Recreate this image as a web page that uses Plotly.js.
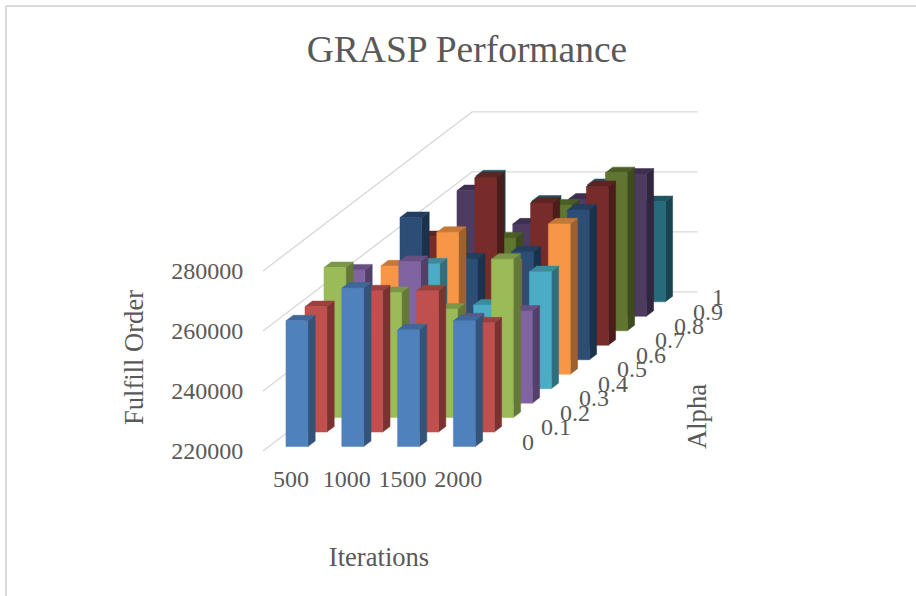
<!DOCTYPE html>
<html>
<head>
<meta charset="utf-8">
<script src="https://cdn.plot.ly/plotly-3.0.1.min.js"></script>
<style>html,body{margin:0;padding:0;background:#fff;overflow:hidden}</style>
</head>
<body>
<div id="chart" style="width:916px;height:596px"></div>
<script>
const iterations = ['500', '1000', '1500', '2000'];
const alphas = ['0', '0.1', '0.2', '0.3', '0.4', '0.5', '0.6', '0.7', '0.8', '0.9', '1'];
const valueTicks = [220000, 240000, 260000, 280000];

const alpha00 = [261900, 272800, 258900, 261900];
const alpha01 = [261800, 267100, 267100, 256400];
const alpha02 = [270000, 261700, 256200, 272800];
const alpha03 = [264400, 267200, 248100, 250700];
const alpha04 = [251200, 261600, 247900, 259000];
const alpha05 = [256100, 267300, 256400, 270100];
const alpha06 = [267400, 253600, 256000, 269900];
const alpha07 = [256200, 275800, 267400, 272900];
const alpha08 = [250900, 250900, 261900, 272700];
const alpha09 = [261900, 250800, 259100, 267400];
const alpha10 = [262000, 253600, 259100, 253400];
const series = [alpha00, alpha01, alpha02, alpha03, alpha04, alpha05, alpha06, alpha07, alpha08, alpha09, alpha10];

const colors = ['#4F81BD', '#C0504D', '#9BBB59', '#8064A2', '#4BACC6', '#F79646',
                '#2C4D75', '#772C2A', '#5F7530', '#4D3B62', '#276A7C'];

// Oblique projection, in axis units
const W = 916, H = 596;
const originX = 263, originY = 451;        // where the floor's front-left corner sits
const pxPerCat = 55.8, pxPerValue = 3 / 1000;
const depthX = 19 / pxPerCat;              // one alpha step, shift along x axis
const depthY = 14.47 / pxPerValue;         // one alpha step, shift along value axis
const base = valueTicks[0];
const barInset = 0.307, barWidth = 0.393, depthGap = 0.308, barDepth = 0.384;

function shade(hex, f) {
  const n = parseInt(hex.slice(1), 16);
  return 'rgb(' + [(n >> 16) & 255, (n >> 8) & 255, n & 255].map(c => Math.round(c * f)).join(',') + ')';
}
function P(col, depth, value) {
  return [col + depth * depthX, value + depth * depthY];
}
function poly(color, pts) {
  const x = [], y = [];
  pts.forEach(list => {
    list.forEach(p => { x.push(p[0]); y.push(p[1]); });
    x.push(list[0][0], null); y.push(list[0][1], null);
  });
  return {type: 'scatter', mode: 'lines', xaxis: 'x2', yaxis: 'y2', x, y, fill: 'toself', fillcolor: color,
          line: {color: color, width: 0.5}, hoverinfo: 'skip', showlegend: false};
}

// Empty trace that keeps the labelled axes alive
const traces = [{type: 'scatter', mode: 'markers', x: [], y: [], xaxis: 'x', yaxis: 'y', hoverinfo: 'skip', showlegend: false}];

const gridColor = '#D9D9D9';
valueTicks.forEach(v => {
  const a = P(0, 0, v), b = P(0, alphas.length, v), c = P(iterations.length + 0.04, alphas.length, v);
  traces.push({type: 'scatter', mode: 'lines', xaxis: 'x2', yaxis: 'y2', x: [a[0], b[0], c[0]], y: [a[1], b[1], c[1]],
               line: {color: gridColor, width: 1.4}, hoverinfo: 'skip', showlegend: false});
});

for (let s = series.length - 1; s >= 0; s--) {
  const d0 = s + depthGap, d1 = d0 + barDepth;
  const side = [], top = [], front = [];
  series[s].forEach((v, c) => {
    const x0 = c + barInset, x1 = x0 + barWidth;
    side.push([P(x1, d0, base), P(x1, d1, base), P(x1, d1, v), P(x1, d0, v)]);
    top.push([P(x0, d0, v), P(x1, d0, v), P(x1, d1, v), P(x0, d1, v)]);
    front.push([P(x0, d0, base), P(x1, d0, base), P(x1, d0, v), P(x0, d0, v)]);
  });
  traces.push(poly(shade(colors[s], 0.64), side));
  traces.push(poly(shade(colors[s], 0.80), top));
  traces.push(poly(colors[s], front));
}

// Alpha tick labels, along the right edge of the floor
const tickFont = {family: 'Liberation Serif', size: 24, color: '#595959'};
const titleFont = {family: 'Liberation Serif', size: 26.6, color: '#595959'};
const labelPos = alphas.map((a, s) => P(iterations.length + 0.47, s + 0.5, base));
traces.push({type: 'scatter', mode: 'text', xaxis: 'x2', yaxis: 'y2', x: labelPos.map(p => p[0]), y: labelPos.map(p => p[1]),
             text: alphas, textposition: 'middle right', textfont: tickFont,
             hoverinfo: 'skip', showlegend: false, cliponaxis: false});

// Labelled axes occupy the part of the page the titles centre on
const axisRight = 495, axisTop = 264;
const layout = {
  width: W, height: H,
  margin: {l: 0, r: 0, t: 0, b: 0, pad: 0},
  paper_bgcolor: '#fff', plot_bgcolor: 'rgba(0,0,0,0)',
  showlegend: false,
  title: {text: 'GRASP Performance', x: 467 / W, xanchor: 'center', xref: 'container',
          y: 1 - 48.5 / H, yanchor: 'middle', yref: 'container',
          font: {family: 'Liberation Serif', size: 37.5, color: '#595959'}},
  xaxis: {domain: [originX / W, axisRight / W], range: [0, (axisRight - originX) / pxPerCat], anchor: 'y',
          tickmode: 'array', tickvals: iterations.map((_, i) => i + 0.5), ticktext: iterations,
          showgrid: false, zeroline: false, showline: false,
          ticks: 'outside', ticklen: 6, tickcolor: 'rgba(0,0,0,0)', tickfont: tickFont,
          title: {text: 'Iterations', font: titleFont, standoff: 56}},
  yaxis: {domain: [(H - originY) / H, (H - axisTop) / H], range: [base, base + (originY - axisTop) / pxPerValue], anchor: 'x',
          tickmode: 'array', tickvals: valueTicks, ticktext: valueTicks.map(String),
          showgrid: false, zeroline: false, showline: false,
          ticks: 'outside', ticklen: 14, tickcolor: 'rgba(0,0,0,0)', tickfont: tickFont,
          title: {text: 'Fulfill Order', font: titleFont, standoff: 19}},
  xaxis2: {domain: [0, 1], range: [-originX / pxPerCat, (W - originX) / pxPerCat], anchor: 'y2', visible: false},
  yaxis2: {domain: [0, 1], range: [base - (H - originY) / pxPerValue, base + originY / pxPerValue], anchor: 'x2', visible: false},
  annotations: [{text: 'Alpha', xref: 'paper', yref: 'paper', showarrow: false, textangle: -90,
                 x: 697 / W, y: 1 - 417 / H, xanchor: 'center', yanchor: 'middle', font: titleFont}],
  shapes: [
    {type: 'line', xref: 'paper', yref: 'paper', x0: 6 / W, x1: 1, y0: 1 - 6 / H, y1: 1 - 6 / H, line: {color: '#D9D9D9', width: 2}},
    {type: 'line', xref: 'paper', yref: 'paper', x0: 6 / W, x1: 6 / W, y0: 1 - 6 / H, y1: 0, line: {color: '#D9D9D9', width: 2}}
  ]
};

Plotly.newPlot('chart', traces, layout, {displayModeBar: false, staticPlot: true});
</script>
</body>
</html>
